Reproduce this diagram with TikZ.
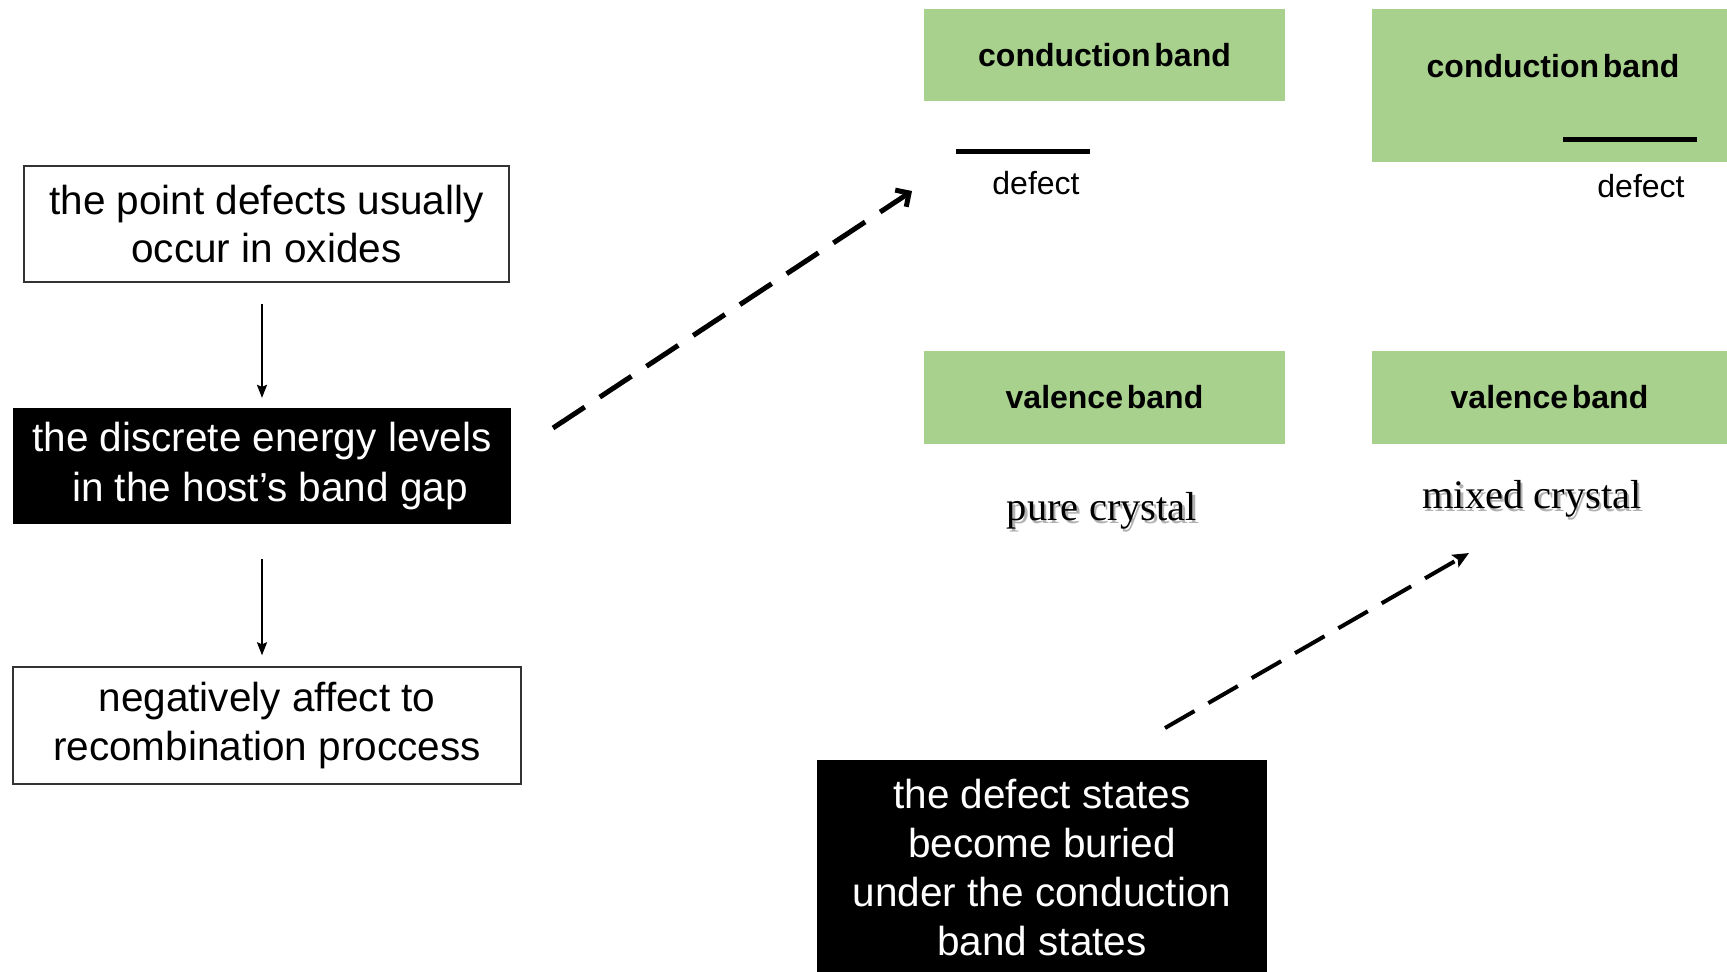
\documentclass[tikz,border=0pt]{standalone}
\usepackage{fontspec}
\setmainfont{Liberation Sans}
\newfontfamily\serifface{Liberation Serif}
\usetikzlibrary{arrows.meta}
\definecolor{bandgreen}{HTML}{A9D18E}
\newcommand{\shadowed}[1]{\makebox[0pt][l]{\hspace{1.2pt}\raisebox{-1.2pt}{\textcolor{black!30}{#1}}}#1}
\begin{document}
\begin{tikzpicture}[x=0.5pt,y=-0.5pt,
  flowbox/.style={draw=black!80, line width=0.7pt, fill=white, inner sep=0pt, align=center,
    font=\fontsize{20.25}{24.25}\selectfont},
  darkbox/.style={fill=black, text=white, inner sep=0pt, align=center,
    font=\fontsize{20.25}{24.6}\selectfont},
  band/.style={fill=bandgreen, inner sep=0pt, font=\bfseries\fontsize{16}{19}\selectfont},
  bandlabel/.style={inner sep=0pt, font=\bfseries\fontsize{16}{19}\selectfont},
  deflabel/.style={inner sep=0pt, font=\fontsize{16}{19}\selectfont},
  crystal/.style={inner sep=0pt, font=\serifface\fontsize{20.25}{24}\selectfont},
  defline/.style={line width=2.5pt},
  flowarrow/.style={line width=1pt, -{Stealth[length=6.5pt,width=5pt,inset=1pt]}},
  dasharrowA/.style={line width=2.5pt, dash pattern=on 19pt off 9pt, -{Straight Barb[length=5pt,width=10pt]}},
  dasharrowB/.style={line width=2pt, dash pattern=on 17pt off 8pt, -{Stealth[length=8pt,width=7pt,inset=1.5pt]}}
]
\useasboundingbox (0,0) rectangle (1727,971);

% left flow
\node[flowbox, minimum width=242.5pt, minimum height=58pt] (box1) at (266.5,224)
  {the point defects usually\\occur in oxides};
\node[darkbox, minimum width=249.25pt, minimum height=57.75pt] (box2) at (262,466)
  {the discrete energy levels\\\hspace*{8pt}in the host’s band gap};
\node[flowbox, minimum width=254pt, minimum height=58.5pt] (box3) at (267,725.5)
  {negatively affect to\\recombination proccess};

\draw[flowarrow, shorten <=10.5pt, shorten >=5pt] (box2.north |- box1.south) -- (box2.north);
\draw[flowarrow, shorten <=17.5pt, shorten >=5.5pt] (box2.south) -- (box2.south |- box3.north);

% bands
\node[band, minimum width=180.5pt, minimum height=46pt] (cb1) at (1104.5,55) {conduction\hspace{0.12em}band};
\node[band, minimum width=177.5pt, minimum height=76.5pt] (cb2) at (1549.5,85.5) {};
\node[bandlabel] (cb2lab) at (1553,66) {conduction\hspace{0.12em}band};
\node[band, minimum width=180.5pt, minimum height=46.5pt] (vb1) at (1104.5,397.5) {valence\hspace{0.12em}band};
\node[band, minimum width=177.5pt, minimum height=46.5pt] (vb2) at (1549.5,397.5) {valence\hspace{0.12em}band};

% defect levels
\coordinate (d1a) at (956,151);
\coordinate (d1b) at (1090,151);
\draw[defline] (d1a) -- (d1b);
\node[deflabel] (def1) at (1036,183) {defect};
\coordinate (d2a) at (1563,139);
\coordinate (d2b) at (1697,139);
\draw[defline] (d2a) -- (d2b);
\node[deflabel] (def2) at (1641,186) {defect};

% crystal labels
\node[crystal] (pure) at (1102,512.5) {\shadowed{pure crystal}};
\node[crystal] (mixed) at (1532,500.5) {\shadowed{mixed crystal}};

% bottom box
\node[darkbox, minimum width=225pt, minimum height=107.5pt] (box4) at (1042,867.5)
  {the defect states\\become buried\\under the conduction\\band states};

% dashed arrows
\coordinate (a1s) at (553,428);
\coordinate (a1e) at (912,191);
\draw[dasharrowA] (a1s) -- (a1e);
\coordinate (a2s) at (1165,728);
\coordinate (a2e) at (1469,553);
\draw[dasharrowB] (a2s) -- (a2e);
\end{tikzpicture}
\end{document}
